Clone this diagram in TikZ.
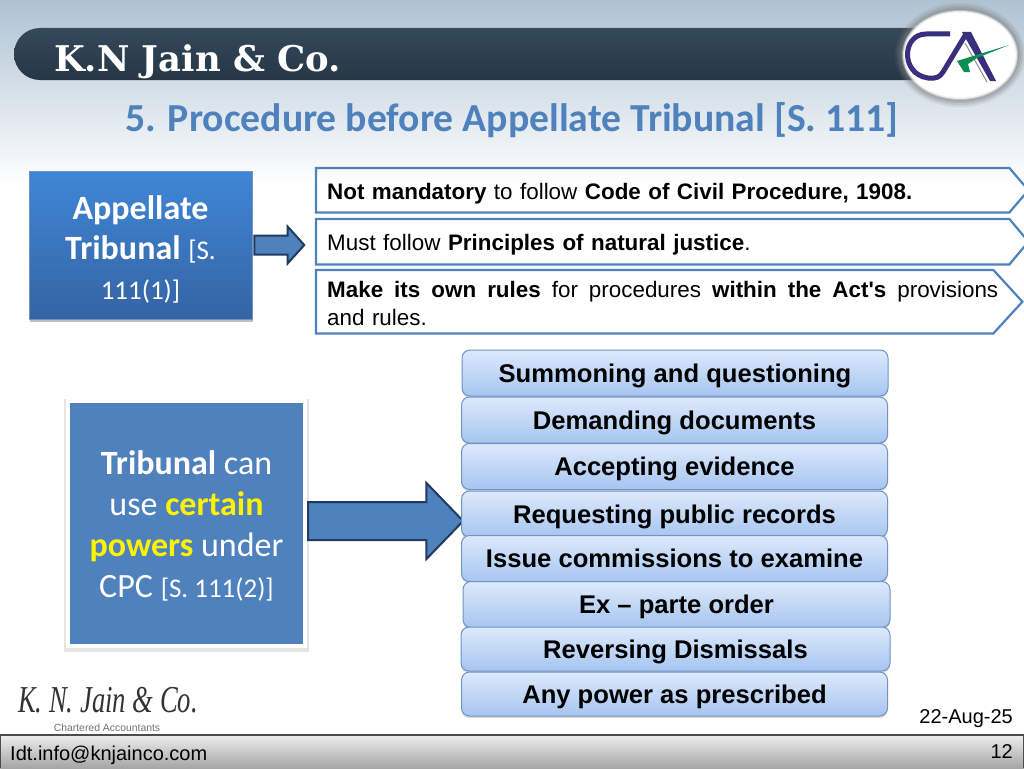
\documentclass[tikz,border=0pt]{standalone}
\usepackage{fontspec}
\setmainfont{Liberation Sans}
\newfontfamily\calibri{Carlito}
\newfontfamily\headserif{DejaVu Serif}
\newfontfamily\logoserif[FakeStretch=.7]{Liberation Serif}
\usetikzlibrary{shadows,shapes.arrows}
\definecolor{skytop}{HTML}{AEC2D2}
\definecolor{barTop}{HTML}{34495C}
\definecolor{barBot}{HTML}{263644}
\definecolor{slideBlue}{HTML}{4F81BD}
\definecolor{arrowEdge}{HTML}{1F3B5E}
\definecolor{boxTop}{HTML}{3F86D6}
\definecolor{boxBot}{HTML}{3564A4}
\definecolor{rowTop}{HTML}{DDE9FB}
\definecolor{rowBot}{HTML}{A6C5F0}
\definecolor{rowEdge}{HTML}{6F94C4}
\definecolor{caNavy}{HTML}{38307F}
\definecolor{caGreen}{HTML}{0F8F4F}
\tikzset{
  powerrow/.style={draw=rowEdge, line width=1pt, rounded corners=8pt, top color=rowTop, bottom color=rowBot,
    minimum width=426pt, minimum height=46pt, inner sep=0pt, text height=22pt, text depth=4pt, font=\fontsize{25.6}{30}\selectfont\bfseries,
    drop shadow={opacity=.3, shadow xshift=0pt, shadow yshift=-2pt}},
  platetext/.style={anchor=north west, inner xsep=11pt, inner ysep=0pt, text width=671pt, font=\fontsize{22.4}{28}\selectfont},
  plateline/.style={draw=slideBlue, line width=2.2pt, line join=miter},
  blockarrow/.style={single arrow, draw=arrowEdge, fill=slideBlue, line width=2pt, inner xsep=0pt, single arrow head indent=0pt},
  slidenote/.style={inner sep=0pt, font=\fontsize{20}{24}\selectfont}
}
\begin{document}
\begin{tikzpicture}[x=1pt, y=-1pt]
  \useasboundingbox (0,0) rectangle (1024,768);
  \fill[white] (0,0) rectangle (1024,768);
  \shade[top color=skytop, bottom color=white] (0,0) rectangle (1024,185);

  % header band and badge
  \shade[top color=barTop, bottom color=barBot] (935,28) [rounded corners=26pt] -- (14,28) -- (14,80) [sharp corners] -- (935,80) -- cycle;
  \draw[black!70, line width=.8pt] (45,28.5) -- (935,28.5);
  \node[anchor=west, inner sep=0pt, text=white, font=\headserif\bfseries\fontsize{35.4}{40}\selectfont] (firm) at (54,62) {K.N Jain \& Co.};
  \foreach \g/\o in {5/.15, 3/.2, 1/.25, -1/.3}
    \fill[black!50, opacity=\o] (960,55) ellipse ({60+\g} and {47+\g});
  \foreach \g/\o in {-2/.4, -3/.6, -4/.8, -5/1}
    \fill[white, opacity=\o] (960,55) ellipse ({60+\g} and {47+\g});
  \draw[caNavy, line width=5pt, line join=round] (950,34) -- (926,34) .. controls (902,34) and (900,74) .. (928,78) .. controls (936,79) and (940,77) .. (943,72) -- (966,34);
  \fill[caNavy] (962,32) -- (971,32) -- (996,81) -- (990,81) -- cycle;
  \draw[black!45, line width=1pt] (965,43) -- (987,82);
  \fill[caGreen] (1009,45) -- (957,61) -- (964,72) -- (970,72) -- (968,64) -- (977,58) -- cycle;

  \node[inner sep=0pt, text=slideBlue, font=\calibri\bfseries\fontsize{39.7}{46}\selectfont] (title) at (512,120) {5. Procedure before Appellate Tribunal [S. 111]};

  % top block
  \node[draw=boxBot!70!white, line width=1pt, top color=boxTop, bottom color=boxBot, text=white, minimum width=223pt, minimum height=148pt, inner sep=0pt, align=center,
    font=\calibri\fontsize{34}{40}\selectfont, drop shadow={opacity=.5, shadow xshift=1pt, shadow yshift=-3pt}] (court) at (140.5,245)
    {\rule{0pt}{33pt}\textbf{Appellate}\\ \textbf{Tribunal} {\fontsize{27}{40}\selectfont [S.}\\ {\fontsize{27}{40}\selectfont 111(1)]}};
  \node[blockarrow, inner ysep=8.5pt, minimum height=50pt, single arrow head extend=9pt, single arrow tip angle=96] (arrowtop) at (275,245) {};

  \node[platetext, minimum width=686pt, minimum height=44pt, text height=22pt, text depth=4pt] (nota) at (316,168) {\textbf{Not mandatory} to follow \textbf{Code of Civil Procedure, 1908.}};
  \node[platetext, minimum width=686pt, minimum height=45pt, text height=22pt, text depth=4pt] (notb) at (316,219) {Must follow \textbf{Principles of natural justice}.};
  \node[platetext, minimum width=693pt, minimum height=63pt] (notc) at (316,270)
    {\hbox to 671pt{\spaceskip=6pt plus 1fil\rule{0pt}{20pt}\textbf{Make its own rules} for procedures \textbf{within the Act\textquotesingle s} provisions}\\ and rules.};
  \foreach \p/\bk/\tp in {nota/0/19, notb/0/19, notc/-16/13}
    \draw[plateline] (\p.north west) -- ([xshift=\bk pt]\p.north east) -- ([xshift=\tp pt]\p.east) -- ([xshift=\bk pt]\p.south east) -- (\p.south west) -- cycle;

  % lower block
  \node[fill=slideBlue, draw=white, line width=4pt, minimum width=237pt, minimum height=245pt, inner sep=0pt, text=white, align=center,
    font=\calibri\fontsize{34}{41}\selectfont, drop shadow={opacity=.2, shadow scale=1.03, shadow xshift=0pt, shadow yshift=-2pt}] (powers) at (186.5,523.5)
    {\rule{0pt}{29pt}\textbf{Tribunal} can\\ use \textcolor{yellow}{\textbf{certain}}\\ \textcolor{yellow}{\textbf{powers}} under\\ CPC {\fontsize{27}{41}\selectfont [S. 111(2)]}};
  \node[blockarrow, inner ysep=18pt, minimum height=155pt, single arrow head extend=19pt, single arrow tip angle=92] (arrowlow) at (376.5,521) {};

  \node[powerrow] (rowa) at (675,373) {Summoning and questioning};
  \node[powerrow] (rowb) at (674.5,420) {Demanding documents};
  \node[powerrow] (rowc) at (674.5,466.5) {Accepting evidence};
  \node[powerrow] (rowd) at (674.5,514) {Requesting public records};
  \node[powerrow] (rowe) at (674.5,558.5) {Issue commissions to examine};
  \node[powerrow, minimum width=427pt] (rowf) at (676.5,604.5) {Ex -- parte order};
  \node[powerrow, minimum width=429pt, minimum height=44pt] (rowg) at (675.5,649) {Reversing Dismissals};
  \node[powerrow, minimum height=44pt] (rowh) at (674.5,694) {Any power as prescribed};

  % footer
  \node[inner sep=0pt, anchor=west, text=black!80, font=\logoserif\itshape\fontsize{38}{42}\selectfont] (knlogo) at (18,700) {K. N. Jain \& Co.};
  \node[inner sep=0pt, text=black!55, font=\fontsize{10.4}{13}\selectfont] (knsub) at (107,728) {Chartered Accountants};
  \shade[top color=black!7, bottom color=black!35] (0,735) rectangle (1024,768);
  \draw[black!70, line width=1.2pt] (0,768) -- (0,735) -- (1024,735) -- (1024,768);
  \node[slidenote, anchor=west] (mail) at (10,755) {Idt.info@knjainco.com};
  \node[slidenote, anchor=east] (stamp) at (1013,719) {22-Aug-25};
  \node[slidenote, anchor=east] (pageno) at (1013,752) {12};
\end{tikzpicture}
\end{document}
